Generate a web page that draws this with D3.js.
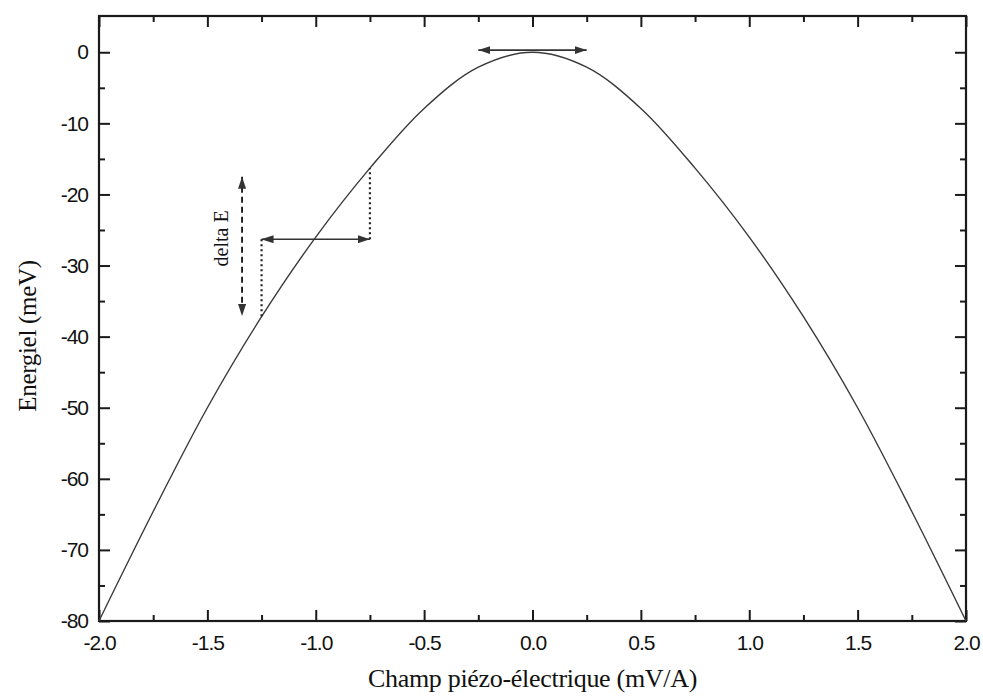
<!DOCTYPE html>
<html>
<head>
<meta charset="utf-8">
<script src="https://cdn.jsdelivr.net/npm/d3@7/dist/d3.min.js"></script>
<style>
  body { margin: 0; background: #fff; }
</style>
</head>
<body>
<svg id="chart" width="983" height="696"></svg>
<script>
// --- données ---
const champ = [-2.0, -1.75, -1.5, -1.25, -1.0, -0.75, -0.5, -0.25, 0.0,
               0.25, 0.5, 0.75, 1.0, 1.25, 1.5, 1.75, 2.0];
const energie = [-80, -64.6, -50.0, -37.2, -26.0, -16.3, -7.9, -2.1, 0.0,
                 -2.1, -7.9, -16.3, -26.0, -37.2, -50.0, -64.6, -80];

const xTicks = [-2.0, -1.5, -1.0, -0.5, 0.0, 0.5, 1.0, 1.5, 2.0];
const xMinor = [-1.75, -1.25, -0.75, -0.25, 0.25, 0.75, 1.25, 1.75];
const yTicks = [0, -10, -20, -30, -40, -50, -60, -70, -80];
const yMinor = [-5, -15, -25, -35, -45, -55, -65, -75];

// annotations : flèche au sommet, flèche horizontale, delta E
const sommet = [-0.25, 0.25, 0.3];
const saut = [-1.25, -0.75, -26.3];
const deltaE = [-1.34, -17.5, -37.1];

const svg = d3.select("#chart"),
      margin = {top: 16, right: 17, bottom: 75, left: 99},
      width = +svg.attr("width") - margin.left - margin.right,
      height = +svg.attr("height") - margin.top - margin.bottom;

const g = svg.append("g")
             .attr("transform", `translate(${margin.left},${margin.top})`);

const x = d3.scaleLinear().domain([-2, 2]).range([0, width]);
const y = d3.scaleLinear().domain([-80, 5.1]).range([height, 0]);

const ink = "#1a1a1a";
// tiret simple au lieu du signe moins unicode
const fmtX = d => d3.format(".1f")(d).replace("\u2212", "-");
const fmtY = d => d3.format("d")(d).replace("\u2212", "-");

// --- marqueurs de flèche ---
const defs = svg.append("defs");
defs.append("marker")
    .attr("id", "fleche")
    .attr("markerUnits", "userSpaceOnUse")
    .attr("viewBox", "0 0 12 8")
    .attr("refX", 12).attr("refY", 4)
    .attr("markerWidth", 12).attr("markerHeight", 8)
    .attr("orient", "auto-start-reverse")
  .append("path")
    .attr("d", "M0,0 L12,4 L0,8 Z")
    .attr("fill", "#333");

// --- axes (ticks vers l'intérieur) ---
function styleAxe(sel) {
  sel.select(".domain").remove();
  sel.selectAll("line").attr("stroke", ink).attr("stroke-width", 2);
  sel.selectAll("text")
     .style("font-family", "'Liberation Sans', Arial, sans-serif")
     .style("font-size", "21px")
     .style("letter-spacing", "-1px")
     .attr("fill", "#111");
}

g.append("g")
 .attr("transform", `translate(0,${height})`)
 .call(d3.axisBottom(x).tickValues(xTicks).tickSizeInner(-11).tickSizeOuter(0)
         .tickPadding(14).tickFormat(fmtX))
 .call(styleAxe);
g.append("g")
 .attr("transform", `translate(0,${height})`)
 .call(d3.axisBottom(x).tickValues(xMinor).tickSize(-6).tickFormat(""))
 .call(styleAxe);

g.append("g")
 .call(d3.axisTop(x).tickValues(xTicks).tickSize(-11).tickFormat(""))
 .call(styleAxe);
g.append("g")
 .call(d3.axisTop(x).tickValues(xMinor).tickSize(-6).tickFormat(""))
 .call(styleAxe);

g.append("g")
 .call(d3.axisLeft(y).tickValues(yTicks).tickSizeInner(-11).tickSizeOuter(0)
         .tickPadding(11).tickFormat(fmtY))
 .call(styleAxe);
g.append("g")
 .call(d3.axisLeft(y).tickValues(yMinor).tickSize(-6).tickFormat(""))
 .call(styleAxe);

g.append("g")
 .attr("transform", `translate(${width},0)`)
 .call(d3.axisRight(y).tickValues(yTicks).tickSize(-11).tickFormat(""))
 .call(styleAxe);
g.append("g")
 .attr("transform", `translate(${width},0)`)
 .call(d3.axisRight(y).tickValues(yMinor).tickSize(-6).tickFormat(""))
 .call(styleAxe);

// cadre
g.append("rect")
 .attr("width", width).attr("height", height)
 .attr("fill", "none").attr("stroke", ink).attr("stroke-width", 2.2);

// --- courbe ---
const pts = champ.map((c, i) => [c, energie[i]]);
g.append("path")
 .datum(pts)
 .attr("fill", "none")
 .attr("stroke", "#3a3a3a")
 .attr("stroke-width", 1.4)
 .attr("d", d3.line().x(d => x(d[0])).y(d => y(d[1])).curve(d3.curveCatmullRom));

// --- annotations ---
g.append("line")
 .attr("x1", x(sommet[0])).attr("x2", x(sommet[1]))
 .attr("y1", y(sommet[2])).attr("y2", y(sommet[2]))
 .attr("stroke", "#333").attr("stroke-width", 1.6)
 .attr("marker-start", "url(#fleche)").attr("marker-end", "url(#fleche)");

g.append("line")
 .attr("x1", x(saut[0])).attr("x2", x(saut[1]))
 .attr("y1", y(saut[2])).attr("y2", y(saut[2]))
 .attr("stroke", "#333").attr("stroke-width", 1.6)
 .attr("marker-start", "url(#fleche)").attr("marker-end", "url(#fleche)");

// pointillés verticaux jusqu'à la courbe
[saut[0], saut[1]].forEach(c => {
  g.append("line")
   .attr("x1", x(c)).attr("x2", x(c))
   .attr("y1", y(saut[2])).attr("y2", y(energie[champ.indexOf(c)]))
   .attr("stroke", "#222").attr("stroke-width", 2.2)
   .attr("stroke-dasharray", "2,3");
});

// delta E
g.append("line")
 .attr("x1", x(deltaE[0])).attr("x2", x(deltaE[0]))
 .attr("y1", y(deltaE[1])).attr("y2", y(deltaE[2]))
 .attr("stroke", "#111").attr("stroke-width", 1.8)
 .attr("stroke-dasharray", "6,4")
 .attr("marker-start", "url(#fleche)").attr("marker-end", "url(#fleche)");

g.append("text")
 .attr("transform", `translate(${x(deltaE[0]) - 14},${y((deltaE[1] + deltaE[2]) / 2) - 8}) rotate(-90)`)
 .attr("text-anchor", "middle")
 .style("font-family", "'Liberation Serif', 'Times New Roman', serif")
 .style("font-size", "20px")
 .attr("fill", "#111")
 .text("delta E");

// --- titres des axes ---
svg.append("text")
   .attr("x", margin.left + width / 2)
   .attr("y", 687)
   .attr("text-anchor", "middle")
   .style("font-family", "'Liberation Serif', 'Times New Roman', serif")
   .style("font-size", "26px")
   .style("letter-spacing", "-0.3px")
   .attr("fill", "#111")
   .text("Champ piézo-électrique (mV/A)");

svg.append("text")
   .attr("transform", `translate(36,336) rotate(-90)`)
   .attr("text-anchor", "middle")
   .style("font-family", "'Liberation Serif', 'Times New Roman', serif")
   .style("font-size", "25px")
   .style("letter-spacing", "-0.3px")
   .attr("fill", "#111")
   .text("Energiel (meV)");
</script>
</body>
</html>
